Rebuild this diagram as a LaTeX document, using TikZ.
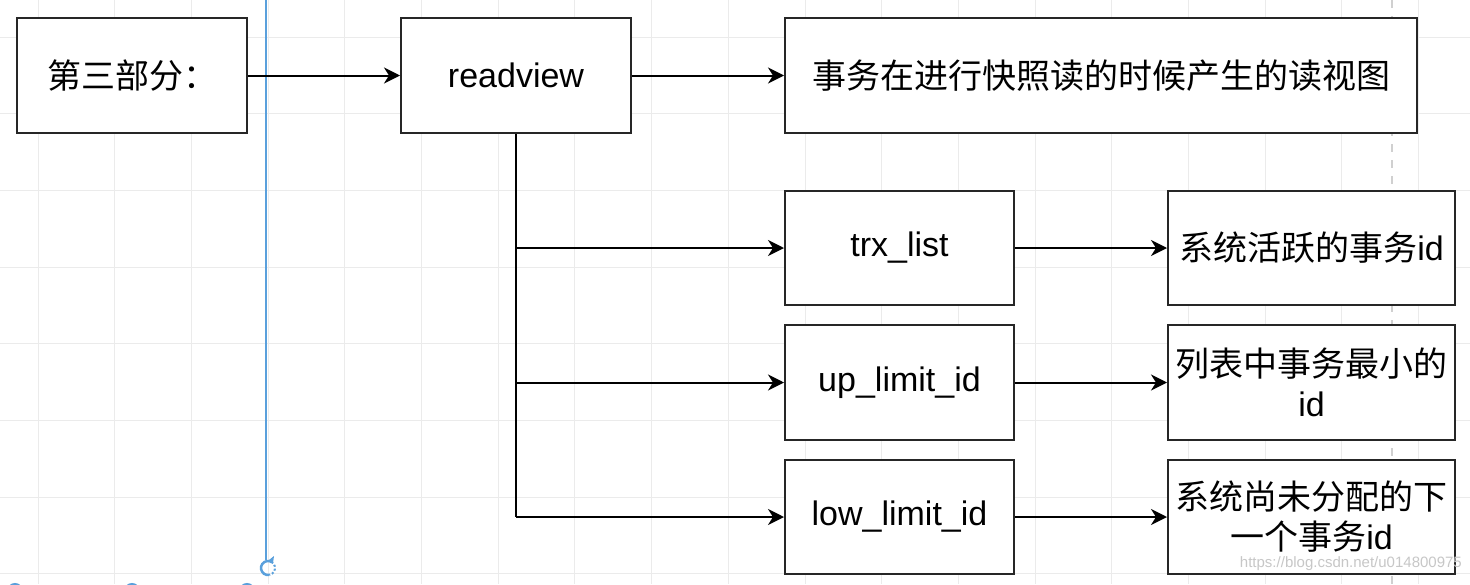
\documentclass[tikz,border=0pt]{standalone}
\usepackage{fontspec}
\setmainfont{Liberation Sans}
\newfontfamily\cjk{Noto Sans CJK SC}
\usetikzlibrary{arrows.meta}
\definecolor{gridc}{HTML}{EBEBEB}
\definecolor{bluel}{HTML}{5AA0DC}
\definecolor{dashc}{HTML}{D0D0D0}
\tikzset{
  box/.style={draw=black!85, line width=2pt, fill=white, inner sep=0pt,
    minimum width=230pt, minimum height=115pt, align=center,
    font=\fontsize{34}{40}\selectfont},
  conn/.style={line width=2pt, -{Stealth[length=16pt,width=16pt,inset=5pt]}},
  lineonly/.style={line width=2pt}
}
\begin{document}
\begin{tikzpicture}[x=1pt,y=-1pt]
\useasboundingbox (0,0) rectangle (1470,584);
\clip (0,0) rectangle (1470,584);
\fill[white] (0,0) rectangle (1470,584);
% grid
\foreach \i in {0,...,18} {
  \draw[gridc, line width=1pt] ({38.3+76.67*\i},0) -- ({38.3+76.67*\i},584);
}
\foreach \j in {0,...,7} {
  \draw[gridc, line width=1pt] (0,{37+76.67*\j}) -- (1470,{37+76.67*\j});
}
% dashed guide
\draw[dashc, line width=1.5pt, dash pattern=on 8pt off 8pt] (1392,0) -- (1392,584);
% blue guide
\draw[bluel, line width=2.2pt] (266,0) -- (266,560);
\draw[bluel, line width=2.5pt] (268,568) ++(80:7) arc (80:300:7);
\draw[bluel, line width=2pt, dash pattern=on 2pt off 2pt] (268,568) ++(300:7) arc (-60:80:7);
\fill[bluel] (269,560) -- (274,556) -- (273,563) -- cycle;
\foreach \cx in {15,132,247} {
  \draw[bluel, line width=2pt] (\cx,591) circle (7);
}
% boxes
\node[box] (p3) at (132,75.5) {{\cjk 第三部分：}};
\node[box] (rv) at (516,75.5) {readview};
\node[box, minimum width=632pt] (desc) at (1101,75.5) {{\cjk 事务在进行快照读的时候产生的读视图}};
\node[box, minimum width=229pt, minimum height=114pt] (trx) at (899.5,248) {trx\_list};
\node[box, minimum width=287pt, minimum height=114pt] (trxd) at (1311.5,248) {{\cjk 系统活跃的事务}id};
\node[box, minimum width=229pt] (up) at (899.5,382.5) {up\_limit\_id};
\node[box, minimum width=287pt] (upd) at (1311.5,382.5) {{\cjk 列表中事务最小的}\\id};
\node[box, minimum width=229pt, minimum height=114pt] (low) at (899.5,517) {low\_limit\_id};
\node[box, minimum width=287pt, minimum height=114pt] (lowd) at (1311.5,517) {{\cjk 系统尚未分配的下}\\{\cjk 一个事务}id};
% connectors
\draw[conn] (p3.east) -- (rv.west);
\draw[conn] (rv.east) -- (desc.west);
\coordinate (j1) at (rv.south |- trx.west);
\coordinate (j2) at (rv.south |- up.west);
\coordinate (j3) at (rv.south |- low.west);
\draw[lineonly] (rv.south) -- (j3);
\draw[conn] (j1) -- (trx.west);
\draw[conn] (j2) -- (up.west);
\draw[conn] (j3) -- (low.west);
\draw[conn] (trx.east) -- (trxd.west);
\draw[conn] (up.east) -- (upd.west);
\draw[conn] (low.east) -- (lowd.west);
% watermark
\node[text=black!22, font=\fontsize{15}{15}\selectfont, anchor=east, inner sep=0pt] (wm) at (1462,564) {https://blog.csdn.net/u014800975};
\end{tikzpicture}
\end{document}
